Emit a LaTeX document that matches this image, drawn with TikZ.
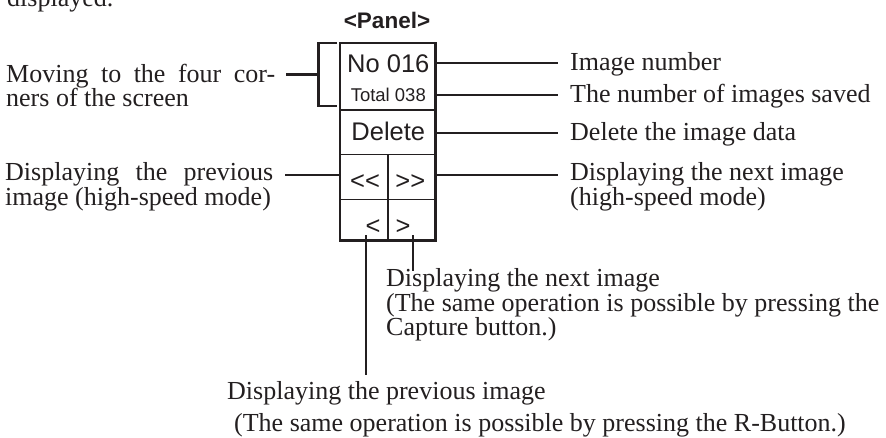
\documentclass[tikz,border=0pt]{standalone}
\usepackage{fontspec}
\setmainfont{Liberation Serif}
\setsansfont{Liberation Sans}
\definecolor{ink}{HTML}{231F20}
\begin{document}
\begin{tikzpicture}[x=1pt,y=-1pt,
  lbl/.style={anchor=base west, inner sep=0pt, text=ink, text height=16.5pt, text depth=5pt, font=\fontsize{26}{24}\selectfont},
  btn/.style={anchor=base, inner sep=0pt, text=ink, font=\sffamily\fontsize{25.5}{26}\selectfont},
  btnsmall/.style={btn, font=\sffamily\fontsize{18.5}{20}\selectfont},
  heading/.style={anchor=base, inner sep=0pt, text=ink, font=\sffamily\bfseries\fontsize{22.5}{24}\selectfont},
  conn/.style={draw=ink, line width=2.1pt},
  tick/.style={draw=ink, line width=1.6pt},
  frame/.style={draw=ink, line width=2.3pt},
  divider/.style={draw=ink, line width=1.1pt}]
\useasboundingbox (0,0) rectangle (886,437);

% cut-off text at the top
\node[lbl] (top) at (7,6.7) {displayed.};

% heading
\node[heading] (panel) at (387,28.3) {<Panel>};

% panel
\draw[divider] (340,110) -- (435.5,110);
\draw[divider] (340,154.3) -- (435.5,154.3);
\draw[divider] (340,199.3) -- (435.5,199.3);
\draw[divider] (388,154.3) -- (388,240.5);
\draw[frame] (340,42.7) rectangle (435.5,240.5);

\node[btn] (no) at (388.3,72.7) {No 016};
\node[btnsmall] (total) at (388.3,101.7) {Total 038};
\node[btn] (del) at (388.3,140) {Delete};
\node[btn] (ffwd) at (410.3,189.7) {>\kern0pt>};
\node[btn] (frev) at (365,189.7) {<\kern0pt<};
\node[btn] (prev) at (373,234.7) {<};
\node[btn] (next) at (403,234.7) {>};

% bracket on the left
\draw[conn] (337,42.7) -- (318.5,42.7) -- (318.5,106) -- (337,106);
\coordinate (brk) at (318.5,74.5);

% labels left
\node[lbl] (mov1) at (6,82.7) {\makebox[269pt][s]{Moving to the four cor-}};
\node[lbl] (mov2) at (6,106.7) {ners of the screen};
\coordinate (movE) at (286,74.5);
\draw[conn] (movE) -- (brk);

\node[lbl] (pv1) at (5,180.7) {\makebox[268pt][s]{Displaying the previous}};
\node[lbl] (pv2) at (5,205.5) {image (high-speed mode)};
\coordinate (pvE) at (285,175);
\coordinate (pvB) at (341,175);
\draw[conn] (pvE) -- (pvB);

% labels right
\coordinate (rImg) at (436,63.3);
\coordinate (rTot) at (436,95);
\coordinate (rDel) at (436,132.7);
\coordinate (rNxt) at (436,175);
\foreach \c in {rImg,rTot,rDel,rNxt}{
  \draw[tick] ([yshift=-6pt]\c) -- ([yshift=6pt]\c);
}
\node[lbl] (lImg) at (570,70.7) {Image number};
\node[lbl] (lTot) at (570,102.7) {The number of images saved};
\node[lbl] (lDel) at (570,140) {Delete the image data};
\node[lbl] (lNxt1) at (570,180.7) {Displaying the next image};
\node[lbl] (lNxt2) at (570,205.5) {(high-speed mode)};
\coordinate (eImg) at (558,63.3);
\coordinate (eTot) at (558,95);
\coordinate (eDel) at (558,132.7);
\coordinate (eNxt) at (558,175);
\draw[conn] (rImg) -- (eImg);
\draw[conn] (rTot) -- (eTot);
\draw[conn] (rDel) -- (eDel);
\draw[conn] (rNxt) -- (eNxt);

% bottom labels
\node[lbl] (bn1) at (386,286.7) {Displaying the next image};
\node[lbl] (bn2) at (386,311) {(The same operation is possible by pressing the};
\node[lbl] (bn3) at (386,335) {Capture button.)};
\coordinate (bnS) at (413.3,235);
\coordinate (bnE) at (413.3,270.7);
\draw[conn] (bnS) -- (bnE);

\node[lbl] (bp1) at (227,399) {Displaying the previous image};
\node[lbl] (bp2) at (234,431) {(The same operation is possible by pressing the R-Button.)};
\coordinate (bpS) at (365.7,235);
\coordinate (bpE) at (365.7,375);
\draw[conn] (bpS) -- (bpE);
\end{tikzpicture}
\end{document}
